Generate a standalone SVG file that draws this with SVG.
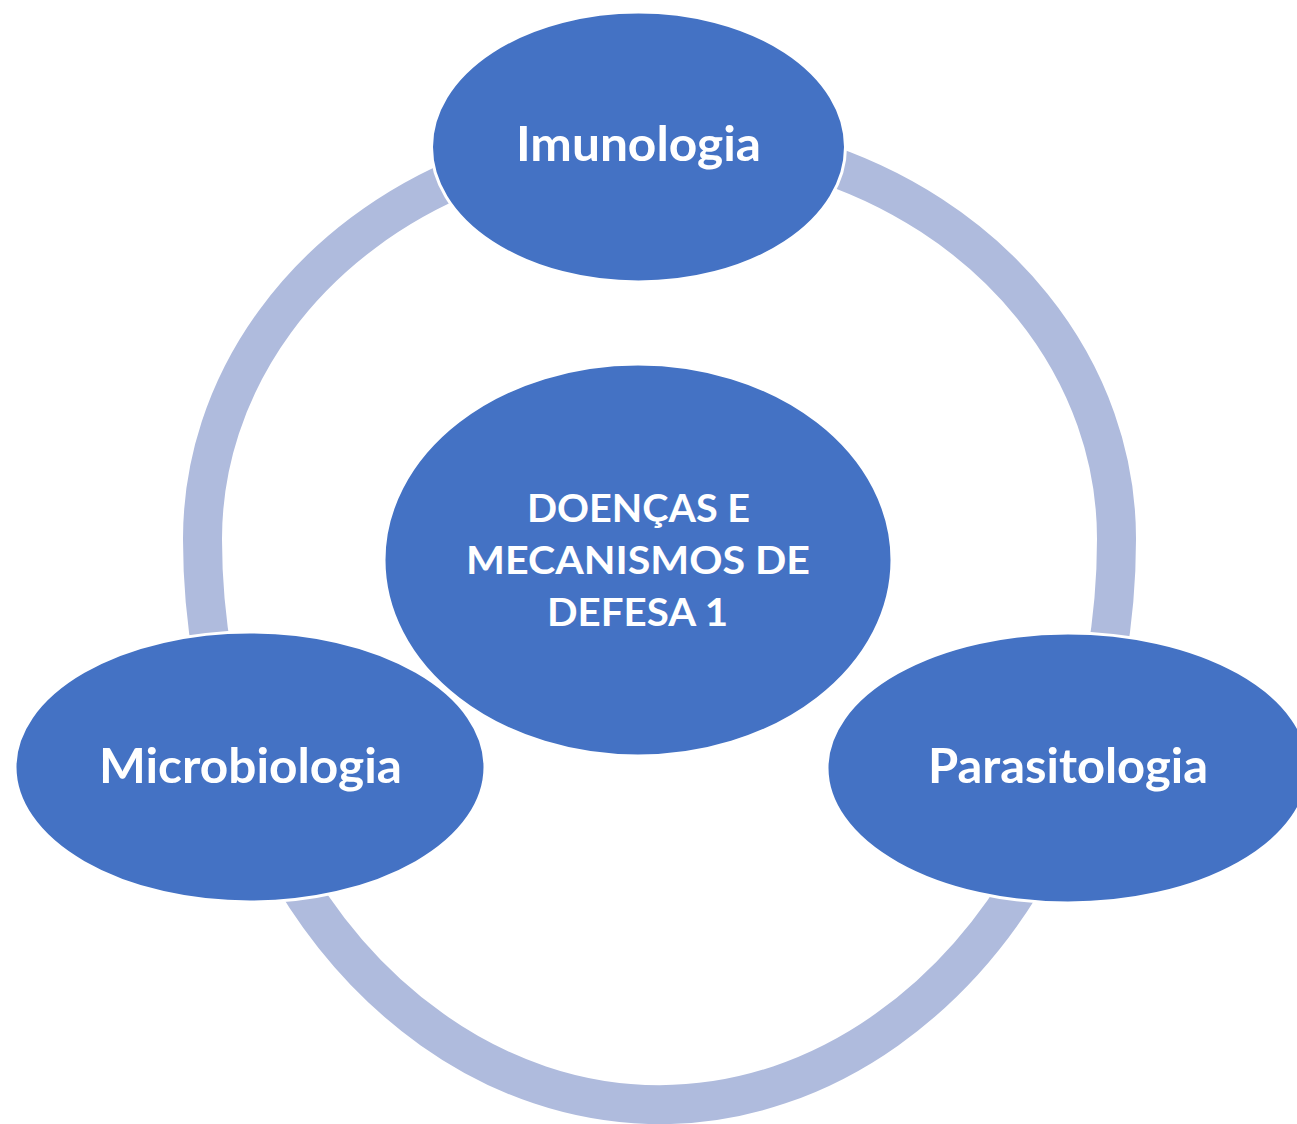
<svg xmlns="http://www.w3.org/2000/svg" width="1297" height="1124" viewBox="0 0 1297 1124">
  <style>
    .ring { fill: none; stroke: #AFBBDD; stroke-width: 39; stroke-linecap: butt; }
    .node { fill: #4472C4; stroke: #FFFFFF; stroke-width: 3; }
    .lbl { fill: #FFFFFF; font-family: Lato, "Open Sans", "Liberation Sans", sans-serif; font-weight: bold; text-anchor: middle; }
    .outer { font-size: 48px; }
    .inner { font-size: 39px; }
  </style>
  <rect x="0" y="0" width="1297" height="1124" fill="#FFFFFF"/>
  <g id="connectors">
    <path id="arc-imu-micro" class="ring" d="M470,173 A457,402 0 0,0 202.5,539 A457,566 0 0,0 213,660"/>
    <path id="arc-imu-para" class="ring" d="M810,159 A457,402 0 0,1 1116.5,539 A457,566 0 0,1 1106,660"/>
    <path id="arc-micro-para" class="ring" d="M280,854 A457,566 0 0,0 1039,854"/>
  </g>
  <g id="node-imunologia">
    <ellipse class="node" cx="638.5" cy="147" rx="207" ry="135"/>
    <text class="lbl outer" x="638.5" y="161" textLength="245" lengthAdjust="spacingAndGlyphs">Imunologia</text>
  </g>
  <g id="node-microbiologia">
    <ellipse class="node" cx="250" cy="767" rx="235" ry="135"/>
    <text class="lbl outer" x="250.5" y="783" textLength="303" lengthAdjust="spacingAndGlyphs">Microbiologia</text>
  </g>
  <g id="node-parasitologia">
    <ellipse class="node" cx="1068" cy="768" rx="241" ry="135"/>
    <text class="lbl outer" x="1068" y="783" textLength="280" lengthAdjust="spacingAndGlyphs">Parasitologia</text>
  </g>
  <g id="node-centro">
    <ellipse class="node" cx="638" cy="560" rx="254" ry="196"/>
    <text class="lbl inner" x="638.5" y="522" textLength="223" lengthAdjust="spacingAndGlyphs">DOENÇAS E</text>
    <text class="lbl inner" x="638" y="574" textLength="344" lengthAdjust="spacingAndGlyphs">MECANISMOS DE</text>
    <text class="lbl inner" x="637.5" y="626" textLength="181" lengthAdjust="spacingAndGlyphs">DEFESA 1</text>
  </g>
</svg>
